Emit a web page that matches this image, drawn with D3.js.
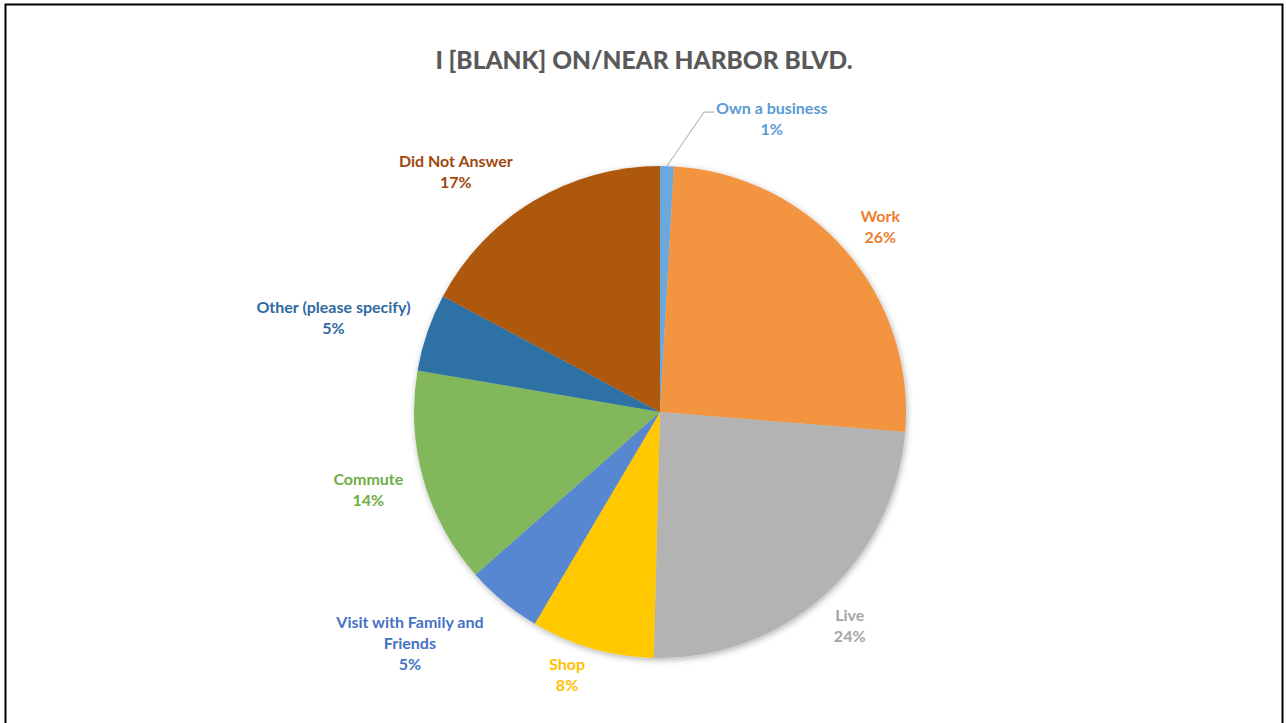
<!DOCTYPE html>
<html>

<head>
    <script src="https://d3js.org/d3.v7.min.js"></script>
    <style>
        body {
            margin: 0;
            background: #ffffff;
        }

        svg text {
            font-family: Lato, "Open Sans", sans-serif;
            font-weight: bold;
        }
    </style>
</head>

<body>
    <div id="pie"></div>

    <script>
        // categories, clockwise from 12 o'clock
        var categories = [
            "Own a business", "Work", "Live", "Shop",
            "Visit with Family and Friends", "Commute",
            "Other (please specify)", "Did Not Answer"
        ];

        // slice sizes (percent)
        var shares = [0.9, 25.4, 24.1, 8.1, 5.0, 14.2, 5.1, 17.2];

        // percentages as printed in the labels
        var pctLabels = ["1%", "26%", "24%", "8%", "5%", "14%", "5%", "17%"];

        var sliceColors = ["#6aa8dd", "#f29441", "#b3b3b3", "#ffc801", "#5787d0", "#82b75b", "#2e71a5", "#ad590e"];
        var textColors = ["#5b9bd5", "#ed7d31", "#a5a5a5", "#ffc000", "#4472c4", "#70ad47", "#2e6aa0", "#9e480e"];

        var width = 1286,
            height = 723,
            cx = 660,
            cy = 412,
            radius = 246;

        // label nudges where the "best fit" placement differs from the plain rule
        var nudge = {
            "Work": [3, 5],
            "Did Not Answer": [-37, 8],
            "Visit with Family and Friends": [-32, 1],
            "Shop": [-14, -14]
        };

        var data = categories.map(function(c, i) {
            return { label: c, value: shares[i], pct: pctLabels[i], color: sliceColors[i], text: textColors[i] };
        });

        var svg = d3.select("#pie")
            .append("svg")
            .attr("width", width)
            .attr("height", height);

        var defs = svg.append("defs");
        defs.append("filter")
            .attr("id", "shadow")
            .attr("x", "-10%").attr("y", "-10%")
            .attr("width", "120%").attr("height", "120%")
            .append("feDropShadow")
            .attr("dx", 1).attr("dy", 2)
            .attr("stdDeviation", 3)
            .attr("flood-color", "#000")
            .attr("flood-opacity", 0.3);

        // frame
        svg.append("rect")
            .attr("x", 5.5).attr("y", 4.5)
            .attr("width", 1277).attr("height", 740)
            .attr("fill", "none")
            .attr("stroke", "#000")
            .attr("stroke-width", 2);

        svg.append("text")
            .attr("x", 644)
            .attr("y", 69)
            .attr("text-anchor", "middle")
            .attr("fill", "#595959")
            .style("font-size", "24.5px")
            .style("font-weight", 900)
            .text("I [BLANK] ON/NEAR HARBOR BLVD.");

        var pie = d3.pie()
            .sort(null)
            .value(function(d) { return d.value; });

        var arc = d3.arc()
            .outerRadius(radius)
            .innerRadius(0);

        var arcs = pie(data);

        var g = svg.append("g")
            .attr("transform", "translate(" + cx + "," + cy + ")");

        g.append("g")
            .attr("filter", "url(#shadow)")
            .selectAll("path")
            .data(arcs)
            .enter()
            .append("path")
            .attr("d", arc)
            .attr("fill", function(d) { return d.data.color; });

        var lineH = 21;

        function wrapLines(d) {
            if (d.data.label == "Visit with Family and Friends") return ["Visit with Family and", "Friends", d.data.pct];
            return [d.data.label, d.data.pct];
        }

        var labels = g.append("g").selectAll("g")
            .data(arcs)
            .enter()
            .append("g");

        labels.each(function(d) {
            var lines = wrapLines(d);
            var sel = d3.select(this);
            var t = sel.append("text")
                .attr("text-anchor", "middle")
                .attr("fill", d.data.text)
                .style("font-size", "16px");
            lines.forEach(function(l, i) {
                t.append("tspan")
                    .attr("x", 0)
                    .attr("y", (i - (lines.length - 1) / 2) * lineH + 5)
                    .text(l);
            });

            var a = (d.startAngle + d.endAngle) / 2;
            var bb = t.node().getBBox();
            var w = bb.width, h = lines.length * lineH;
            var px, py;

            if (d.data.label == "Own a business") {
                // leader line from the thin slice up to the label
                var sx = Math.sin(a) * radius, sy = -Math.cos(a) * radius;
                var ex = sx + 37, ey = sy - 54;
                g.append("polyline")
                    .attr("points", [[sx, sy], [ex, ey], [ex + 10, ey]].map(function(p) { return p.join(","); }).join(" "))
                    .attr("fill", "none")
                    .attr("stroke", "#a6a6a6")
                    .attr("stroke-width", 1);
                px = ex + 12 + w / 2;
                py = ey + 7.5;
            } else {
                var r = radius + 22;
                px = Math.sin(a) * r + Math.sin(a) * w / 2;
                py = -Math.cos(a) * r - Math.cos(a) * h / 2;
                var n = nudge[d.data.label];
                if (n) {
                    px += n[0];
                    py += n[1];
                }
            }
            sel.attr("transform", "translate(" + px + "," + py + ")");
        });
    </script>

</body>

</html>
